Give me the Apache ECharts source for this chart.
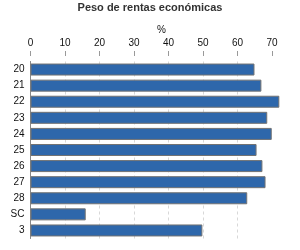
<!DOCTYPE html>
<html>
<head>
<meta charset="utf-8">
<script src="https://cdn.jsdelivr.net/npm/echarts@6/dist/echarts.min.js"></script>
<style>
  html, body { margin: 0; padding: 0; background: #fff; }
  #chart { width: 300px; height: 250px; }
</style>
</head>
<body>
<div id="chart"></div>
<script>
// categorías y valores
var categories = ["20", "21", "22", "23", "24", "25", "26", "27", "28", "SC", "3"];
var values = [64.9, 66.9, 72.1, 68.6, 69.9, 65.5, 67.2, 68.1, 62.8, 16.0, 49.8];
var xTicks = [0, 10, 20, 30, 40, 50, 60, 70];

var myChart = echarts.init(document.getElementById("chart"));
var font = "Arial, 'Liberation Sans', sans-serif";

var option = {
  animation: false,
  title: [
    {
      text: "Peso de rentas económicas",
      left: "center",
      top: 2,
      padding: 0,
      textStyle: { fontFamily: font, fontSize: 11, fontWeight: "bold", color: "#333" }
    },
    {
      // unidad del eje x
      text: "%",
      left: 157,
      top: 25,
      padding: 0,
      textStyle: { fontFamily: font, fontSize: 10, fontWeight: "normal", color: "#111" }
    }
  ],
  grid: { left: 30.5, right: 7.2, top: 61.5, bottom: 11.5 },
  xAxis: {
    type: "value",
    position: "top",
    offset: 5.5,
    min: 0,
    max: 76,
    interval: 10,
    axisLine: { show: false },
    axisTick: { show: true, length: 5, customValues: xTicks, lineStyle: { color: "#999" } },
    axisLabel: { customValues: xTicks, margin: 8, fontFamily: font, fontSize: 10, color: "#111" },
    splitLine: {
      show: true,
      showMaxLine: false,
      lineStyle: { color: "#d8d8d8", type: [3, 3], width: 1 }
    }
  },
  yAxis: {
    type: "category",
    inverse: true,
    data: categories,
    axisLine: { show: true, lineStyle: { color: "#888", width: 1 } },
    axisTick: { show: false },
    axisLabel: { margin: 6, fontFamily: font, fontSize: 10, color: "#111" }
  },
  series: [
    {
      type: "bar",
      data: values,
      barWidth: 12,
      itemStyle: { color: "#2e67ab", borderColor: "#737373", borderWidth: 1 }
    }
  ]
};
myChart.setOption(option);
</script>
</body>
</html>
